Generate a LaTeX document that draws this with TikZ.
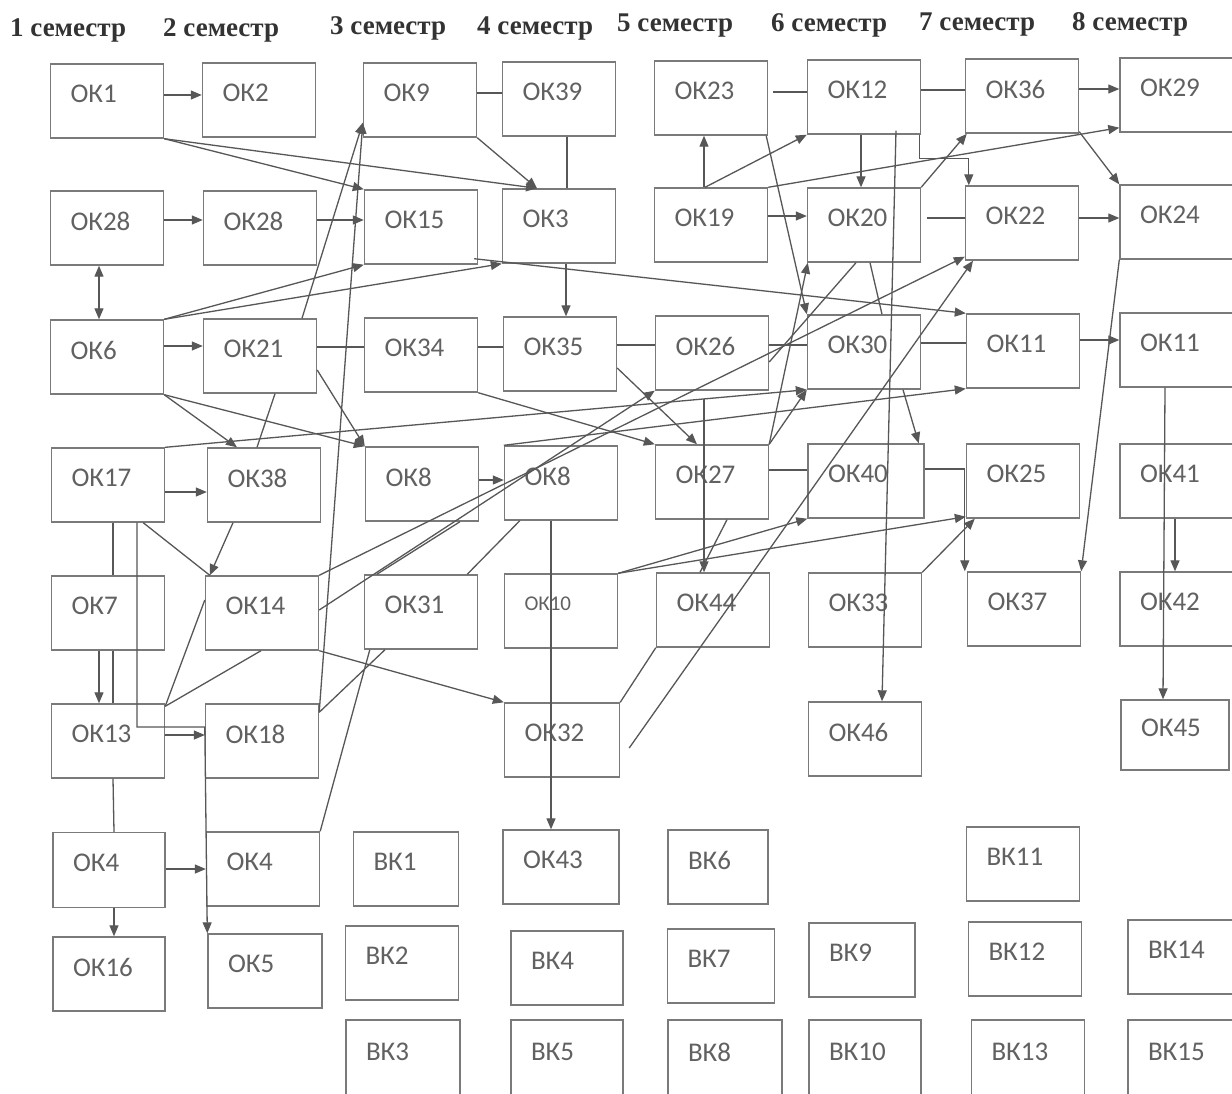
\documentclass[tikz,border=0pt]{standalone}
\usepackage{fontspec}
\setmainfont{Carlito}
\newfontfamily\semfont{Liberation Serif}
\usetikzlibrary{arrows.meta,calc}

\definecolor{boxcol}{gray}{0.48}
\definecolor{linkcol}{gray}{0.34}
\definecolor{labcol}{gray}{0.38}
\definecolor{semcol}{gray}{0.2}
\newcommand{\boxfont}{\fontsize{27}{30}\selectfont}
\newcommand{\semsize}{\semfont\bfseries\fontsize{27}{30}\selectfont}

\tikzset{
  okbox/.style={draw=boxcol, line width=1.4pt, rectangle, minimum height=74pt,
    text width=#1, inner xsep=20pt, inner ysep=0pt, text depth=14pt,
    align=left, text=labcol, font=\boxfont},
  okbox/.default=73pt,
  semlabel/.style={anchor=base west, inner sep=0pt, text=semcol, font=\semsize},
  link/.style={draw=linkcol, line width=1.3pt},
  arr/.style={link, -{Triangle[length=11pt,width=9pt]}},
  darr/.style={link, {Triangle[length=11pt,width=9pt]}-{Triangle[length=11pt,width=9pt]}}
}

\begin{document}
\begin{tikzpicture}[x=1pt,y=-1pt]
    \fill[white] (0,0) rectangle (1232,1093);
    \useasboundingbox (0,0) rectangle (1232,1093);

    % Semesters
    \node[semlabel] (sem1) at (10,36) {1 семестр};
    \node[semlabel] (sem2) at (163,36) {2 семестр};
    \node[semlabel] (sem3) at (330,34) {3 семестр};
    \node[semlabel] (sem4) at (477,34) {4 семестр};
    \node[semlabel] (sem5) at (617,31) {5 семестр};
    \node[semlabel] (sem6) at (771,31) {6 семестр};
    \node[semlabel] (sem7) at (919,30) {7 семестр};
    \node[semlabel] (sem8) at (1072,30) {8 семестр};

    % Row 1
    \node[okbox] (ok1) at (107,101) {ОК1};
    \node[okbox] (ok2) at (259,100) {ОК2};
    \node[okbox] (ok9) at (420,100) {ОК9};
    \node[okbox] (ok39) at (559,99) {ОК39};
    \node[okbox] (ok23) at (711,98) {ОК23};
    \node[okbox] (ok12) at (864,97) {ОК12};
    \node[okbox] (ok36) at (1022,96) {ОК36};
    \node[okbox=74pt] (ok29) at (1177,95) {ОК29};

    % Row 2
    \node[okbox] (ok28a) at (107,228) {ОК28};
    \node[okbox] (ok28b) at (260,228) {ОК28};
    \node[okbox] (ok15) at (421,227) {ОК15};
    \node[okbox] (ok3) at (559,226) {ОК3};
    \node[okbox] (ok19) at (711,225) {ОК19};
    \node[okbox] (ok20) at (864,225) {ОК20};
    \node[okbox] (ok22) at (1022,223) {ОК22};
    \node[okbox=74pt] (ok24) at (1177,222) {ОК24};

    % Row 3
    \node[okbox] (ok6) at (107,357) {ОК6};
    \node[okbox] (ok21) at (260,356) {ОК21};
    \node[okbox] (ok34) at (421,355) {ОК34};
    \node[okbox] (ok35) at (560,354) {ОК35};
    \node[okbox] (ok26) at (712,353) {ОК26};
    \node[okbox] (ok30) at (864,352) {ОК30};
    \node[okbox] (ok11a) at (1023,351) {ОК11};
    \node[okbox=74pt] (ok11b) at (1177,350) {ОК11};

    % Row 4
    \node[okbox] (ok17) at (108,485) {ОК17};
    \node[okbox] (ok38) at (264,485) {ОК38};
    \node[okbox] (ok8a) at (422,484) {ОК8};
    \node[okbox] (ok8b) at (561,483) {ОК8};
    \node[okbox] (ok27) at (712,482) {ОК27};
    \node[okbox=76pt] (ok40) at (866,481) {ОК40};
    \node[okbox] (ok25) at (1023,481) {ОК25};
    \node[okbox=74pt] (ok41) at (1177,481) {ОК41};

    % Row 5
    \node[okbox] (ok7) at (108,613) {ОК7};
    \node[okbox] (ok14) at (262,613) {ОК14};
    \node[okbox] (ok31) at (421,612) {ОК31};
    \node[okbox, font=\fontsize{21}{24}\selectfont] (ok10) at (561,611) {ОК10};
    \node[okbox] (ok44) at (713,610) {ОК44};
    \node[okbox] (ok33) at (865,610) {ОК33};
    \node[okbox] (ok37) at (1024,609) {ОК37};
    \node[okbox=74pt] (ok42) at (1177,609) {ОК42};

    % Row 6
    \node[okbox] (ok13) at (108,741) {ОК13};
    \node[okbox] (ok18) at (262,741) {ОК18};
    \node[okbox=75pt] (ok32) at (562,740) {ОК32};
    \node[okbox] (ok46) at (865,739) {ОК46};
    \node[okbox=68pt, minimum height=70pt] (ok45) at (1175,735) {ОК45};

    % Row 7
    \node[okbox=72pt, minimum height=75pt] (ok4a) at (109,870) {ОК4};
    \node[okbox] (ok4b) at (263,869) {ОК4};
    \node[okbox=65pt] (bk1) at (406,869) {ВК1};
    \node[okbox=76pt] (ok43) at (561,867) {ОК43};
    \node[okbox=60pt] (bk6) at (718,867) {ВК6};
    \node[okbox] (bk11) at (1023,864) {ВК11};

    % Row 8
    \node[okbox=72pt] (ok16) at (109,974) {ОК16};
    \node[okbox=74pt] (ok5) at (265,971) {ОК5};
    \node[okbox] (bk2) at (402,963) {ВК2};
    \node[okbox=72pt] (bk4) at (567,968) {ВК4};
    \node[okbox=67pt] (bk7) at (721,966) {ВК7};
    \node[okbox=66pt] (bk9) at (862,960) {ВК9};
    \node[okbox] (bk12) at (1025,959) {ВК12};
    \node[okbox=66pt] (bk14) at (1181,957) {ВК14};

    % Row 9
    \node[okbox=74pt, minimum height=78pt] (bk3) at (403,1059) {ВК3};
    \node[okbox=72pt, minimum height=78pt] (bk5) at (567,1059) {ВК5};
    \node[okbox=74pt, minimum height=78pt] (bk8) at (725,1059) {ВК8};
    \node[okbox=72pt, minimum height=78pt] (bk10) at (865,1059) {ВК10};
    \node[okbox, minimum height=78pt] (bk13) at (1028,1059) {ВК13};
    \node[okbox=66pt, minimum height=78pt] (bk15) at (1181,1059) {ВК15};

    % Links of row 1
    \draw[arr] ($(ok1.east)+(0,-6)$) -- ($(ok2.west)+(0,-5)$);
    \draw[link] ($(ok9.east)+(0,-7)$) -- ($(ok39.west)+(0,-6)$);
    \draw[link] ($(ok23.east)+(5,-6)$) -- ($(ok12.west)+(0,-5)$);
    \draw[link] ($(ok12.east)+(0,-7)$) -- ($(ok36.west)+(0,-6)$);
    \draw[arr] ($(ok36.east)+(0,-7)$) -- ($(ok29.west)+(0,-6)$);
    \draw[arr] (ok1.south east) -- (ok15.north west);
    \draw[arr] (ok1.south east) -- ($(ok3.north)+(-22,0)$);
    \draw[arr] (ok9.south east) -- ($(ok3.north)+(-22,0)$);
    \draw[link] ($(ok39.south)+(8,0)$) -- ($(ok3.north)+(8,0)$);
    \draw[arr] ($(ok12.south)+(-3,0)$) -- ($(ok20.north)+(-3,0)$);
    \draw[arr] ($(ok12.south east)+(-2,0)$) |- ($(ok22.north west)+(4,-27)$) -- ($(ok22.north west)+(4,0)$);
    \draw[arr] ($(ok36.south east)+(0,-2)$) -- (ok24.north west);
    \draw[arr] ($(ok23.south east)+(-2,0)$) -- (ok30.north west);
    \draw[arr] ($(ok12.south)+(32,-4)$) -- ($(ok46.north)+(17,0)$);

    % Links of row 2
    \draw[arr] ($(ok28a.east)+(0,-8)$) -- ($(ok28b.west)+(0,-8)$);
    \draw[arr] ($(ok28b.east)+(0,-8)$) -- ($(ok15.west)+(0,-7)$);
    \draw[darr] ($(ok28a.south)+(-8,0)$) -- ($(ok6.north)+(-8,0)$);
    \draw[arr] ($(ok3.south)+(7,0)$) -- ($(ok35.north)+(6,0)$);
    \draw[arr] ($(ok15.south east)+(-4,-6)$) -- (ok11a.north west);
    \draw[arr] ($(ok19.north)+(-7,0)$) -- ($(ok23.south)+(-7,0)$);
    \draw[arr] ($(ok19.north)+(-6,0)$) -- (ok12.south west);
    \draw[arr] (ok19.north east) -- ($(ok29.south west)+(0,-5)$);
    \draw[arr] ($(ok19.east)+(0,-9)$) -- ($(ok20.west)+(0,-9)$);
    \draw[link] ($(ok20.east)+(6,-7)$) -- ($(ok22.west)+(0,-5)$);
    \draw[arr] (ok20.north east) -- ($(ok36.south west)+(2,0)$);
    \draw[arr] ($(ok22.east)+(0,-5)$) -- ($(ok24.west)+(0,-4)$);
    \draw[link] ($(ok20.south)+(-8,0)$) -- ($(ok26.east)+(0,9)$);
    \draw[link] ($(ok20.south)+(6,0)$) -- ($(ok30.north)+(18,0)$);

    % Links of row 3
    \draw[arr] (ok6.north east) -- (ok15.south west);
    \draw[arr] (ok6.north east) -- (ok3.south west);
    \draw[arr] ($(ok21.north)+(42,0)$) -- ($(ok9.south west)+(0,-15)$);
    \draw[arr] ($(ok6.east)+(0,-11)$) -- ($(ok21.west)+(0,-10)$);
    \draw[link] ($(ok21.east)+(0,-9)$) -- ($(ok34.west)+(0,-8)$);
    \draw[link] ($(ok34.east)+(0,-8)$) -- ($(ok35.west)+(0,-7)$);
    \draw[link] ($(ok35.east)+(0,-9)$) -- ($(ok26.west)+(0,-8)$);
    \draw[link] ($(ok26.east)+(0,-8)$) -- ($(ok30.west)+(0,-7)$);
    \draw[link] ($(ok30.east)+(0,-9)$) -- ($(ok11a.west)+(0,-8)$);
    \draw[arr] ($(ok11a.east)+(0,-11)$) -- ($(ok11b.west)+(0,-10)$);
    \draw[arr] (ok6.south east) -- ($(ok38.north)+(-27,0)$);
    \draw[arr] (ok6.south east) -- (ok8a.north west);
    \draw[arr] ($(ok21.east)+(0,14)$) -- (ok8a.north west);
    \draw[link] ($(ok21.south)+(15,0)$) -- ($(ok38.north)+(-7,0)$);
    \draw[arr] ($(ok35.east)+(0,14)$) -- ($(ok27.north)+(-15,0)$);
    \draw[arr] (ok34.south east) -- (ok27.north west);
    \draw[arr] ($(ok26.south)+(-8,8)$) -- ($(ok44.north)+(-9,0)$);
    \draw[arr] ($(ok30.south)+(39,0)$) -- ($(ok40.north east)+(-6,0)$);
    \draw[arr] ($(ok11b.south)+(-12,0)$) -- ($(ok45.north)+(-12,0)$);
    \draw[arr] (ok24.south west) -- (ok37.north east);

    % Links of row 4
    \draw[arr] ($(ok17.east)+(0,7)$) -- ($(ok38.west)+(0,7)$);
    \draw[arr] (ok17.north east) -- (ok30.south west);
    \draw[arr] ($(ok38.south)+(-31,0)$) -- ($(ok14.north west)+(5,0)$);
    \draw[link] ($(ok17.south east)+(-22,0)$) -- ($(ok14.north west)+(5,0)$);
    \draw[arr] ($(ok8a.east)+(0,-4)$) -- ($(ok8b.west)+(0,-3)$);
    \draw[arr] ($(ok8b.south)+(-10,0)$) -- ($(ok43.north)+(-10,0)$);
    \draw[arr] (ok8b.north west) -- (ok11a.south west);
    \draw[arr] (ok27.north east) -- (ok30.south west);
    \draw[arr] (ok27.north east) -- ($(ok20.south west)+(1,0)$);
    \draw[link] ($(ok27.east)+(0,-12)$) -- ($(ok40.west)+(0,-11)$);
    \draw[arr] ($(ok40.east)+(0,-12)$) -| ($(ok37.north west)+(-2,0)$);
    \draw[link] ($(ok27.south)+(15,0)$) -- ($(ok44.north)+(-13,0)$);
    \draw[arr] ($(ok41.south)+(-2,0)$) -- ($(ok42.north)+(-2,0)$);
    \draw[link] ($(ok8a.south)+(38,0)$) -- ($(ok31.north west)+(13,0)$);

    % Links of row 5
    \draw[link] ($(ok17.south)+(5,0)$) -- ($(ok7.north)+(5,0)$);
    \draw[arr] ($(ok17.south)+(29,0)$) |- ($(ok18.west)+(0,-14)$) -- (ok5.north west);
    \draw[link] ($(ok7.south)+(5,0)$) -- ($(ok13.north)+(5,0)$);
    \draw[arr] ($(ok7.south)+(-9,0)$) -- ($(ok13.north)+(-9,0)$);
    \draw[arr] (ok14.north east) -- ($(ok22.south west)+(0,-4)$);
    \draw[arr] ($(ok14.east)+(0,-3)$) -- (ok26.south west);
    \draw[arr] (ok14.south east) -- (ok32.north west);
    \draw[link] ($(ok31.north east)+(-11,0)$) -- ($(ok8b.south west)+(16,0)$);
    \draw[arr] (ok10.north east) -- (ok40.south west);
    \draw[arr] (ok10.north east) -- ($(ok25.south west)+(0,-2)$);
    \draw[arr] (ok33.north east) -- ($(ok25.south west)+(9,0)$);

    % Links of row 6
    \draw[arr] ($(ok13.east)+(0,-6)$) -- ($(ok18.west)+(0,-6)$);
    \draw[link] ($(ok13.north east)+(0,3)$) -- ($(ok14.south)+(-1,0)$);
    \draw[link] ($(ok13.north east)+(0,3)$) -- ($(ok14.west)+(0,-13)$);
    \draw[arr] ($(ok18.north east)+(0,9)$) -- ($(ok9.south west)+(0,-15)$);
    \draw[link] ($(ok18.north east)+(0,9)$) -- ($(ok31.south)+(-36,0)$);
    \draw[arr] ($(ok32.east)+(9,8)$) -- ($(ok22.south)+(-49,0)$);
    \draw[link] (ok32.north east) -- (ok44.south west);
    \draw[link] ($(ok13.south)+(5,0)$) -- ($(ok4a.north)+(5,0)$);

    % Links of row 7
    \draw[arr] ($(ok4a.east)+(0,-1)$) -- (ok4b.west);
    \draw[arr] ($(ok4a.south)+(5,0)$) -- ($(ok16.north)+(5,0)$);
    \draw[link] (ok4b.north east) -- ($(ok31.south west)+(6,0)$);
\end{tikzpicture}
\end{document}
